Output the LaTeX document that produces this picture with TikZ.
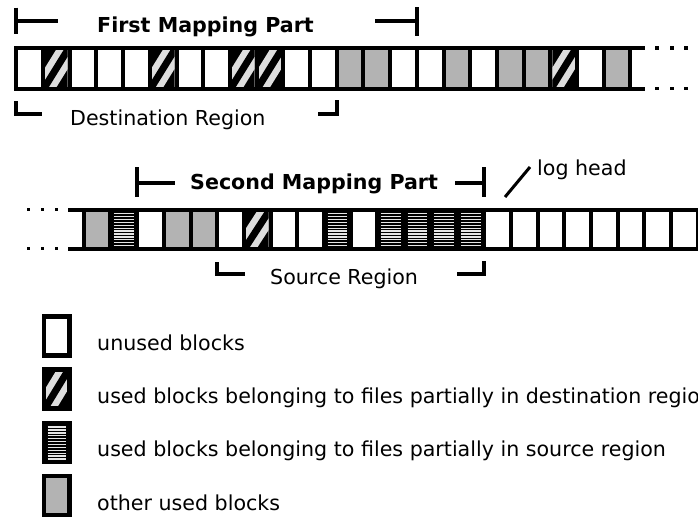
\documentclass[tikz,border=0pt]{standalone}
\usepackage{fontspec}
\setmainfont{DejaVu Sans}
\definecolor{blkgray}{HTML}{B3B3B3}
\definecolor{hatchgray}{HTML}{DEDEDE}
\definecolor{stripegray}{HTML}{E6E6E6}
\newcommand\blkw[4]{\fill[white] (#1,#2) rectangle (#3,#4);}
\newcommand\blkg[4]{\fill[blkgray] (#1,#2) rectangle (#3,#4);}
\newcommand\blkh[4]{\begin{scope}\clip (#1,#2) rectangle (#3,#4);
  \fill[black] (#1,#2) rectangle (#3,#4);
  \draw[hatchgray,line width=20] (#1,#4) -- (#3,#2);
  \draw[black,line width=7] (#1,#4) -- (#3,#2);\end{scope}}
\newcommand\blks[4]{\fill[black] (#1,#2) rectangle (#3,#4);
  \foreach \ii in {0,...,11}{\draw[stripegray,line width=1.3] ({#1+1.5},{#2+2+\ii*2.9}) -- ({#3-1.5},{#2+2+\ii*2.9});}}
\tikzset{
  lbl/.style={font=\fontsize{20.6}{24}\selectfont, inner sep=0, anchor=base west},
  ttl/.style={font=\fontsize{20.6}{24}\selectfont\bfseries, inner sep=0, anchor=base west},
  thick line/.style={line width=4, black},
  dot/.style={fill=black},
}
\begin{document}
\begin{tikzpicture}[x=1pt,y=-1pt]
\useasboundingbox (0,0) rectangle (698,517);
% ---------- top strip ----------
\foreach \t [count=\k from 0] in {w,h,w,w,w,h,w,w,h,h,w,w,g,g,w,w,g,w,g,g,h,w,g}{
  \pgfmathsetmacro\xa{16.3+\k*26.7+2}
  \pgfmathsetmacro\xb{16.3+(\k+1)*26.7-2}
  \csname blk\t\endcsname{\xa}{50}{\xb}{86.7}
}
\foreach \k in {0,...,23}{\draw[thick line] ({16.3+\k*26.7},48) -- ({16.3+\k*26.7},88.7);}
\draw[thick line] (14.3,48) -- (645,48);
\draw[thick line] (14.3,88.7) -- (645,88.7);
\foreach \xx in {657,672,686}{
  \fill[dot] (\xx-1.7,48-1.7) rectangle (\xx+1.7,48+1.7);
  \fill[dot] (\xx-1.7,88.7-1.7) rectangle (\xx+1.7,88.7+1.7);
}
% first mapping part bracket
\draw[thick line] (16.3,7.5) -- (16.3,34);
\draw[thick line] (16.3,20.5) -- (58,20.5);
\draw[thick line] (416.8,7) -- (416.8,36);
\draw[thick line] (375,20.5) -- (416.8,20.5);
\node[ttl] (fmp) at (97,32) {First Mapping Part};
% destination region bracket
\draw[thick line] (16.3,101) -- (16.3,113.5) -- (42,113.5);
\draw[thick line] (318,113.5) -- (336.7,113.5) -- (336.7,100);
\node[lbl] (dest) at (70,125) {Destination Region};
% ---------- second strip ----------
\foreach \t [count=\k from 0] in {g,s,w,g,g,w,h,w,w,s,w,s,s,s,s,w,w,w,w,w,w,w,w}{
  \pgfmathsetmacro\xa{83.7+\k*26.7+2}
  \pgfmathsetmacro\xb{83.7+(\k+1)*26.7-2}
  \csname blk\t\endcsname{\xa}{211.7}{\xb}{246.7}
}
\foreach \k in {0,...,23}{\draw[thick line] ({83.7+\k*26.7},209.7) -- ({83.7+\k*26.7},248.7);}
\draw[thick line] (68,209.7) -- (700,209.7);
\draw[thick line] (68,248.7) -- (700,248.7);
\foreach \xx in {28.3,42.7,56.7}{
  \fill[dot] (\xx-1.7,209.7-1.7) rectangle (\xx+1.7,209.7+1.7);
  \fill[dot] (\xx-1.7,248.7-1.7) rectangle (\xx+1.7,248.7+1.7);
}
% second mapping part bracket
\draw[thick line] (136.8,167) -- (136.8,197);
\draw[thick line] (136.8,182.5) -- (175,182.5);
\draw[thick line] (484.2,167) -- (484.2,197);
\draw[thick line] (455,182.5) -- (484.2,182.5);
\node[ttl] (smp) at (190,189.5) {Second Mapping Part};
% log head
\draw[line width=3] (505,197) -- (530,167);
\node[lbl] (lh) at (537,175) {log head};
% source region bracket
\draw[thick line] (217.2,262) -- (217.2,274) -- (245,274);
\draw[thick line] (457,274) -- (484.2,274) -- (484.2,261);
\node[lbl] (src) at (270,284) {Source Region};
% ---------- legend ----------
\foreach \t [count=\k from 0] in {w,h,s,g}{
  \pgfmathsetmacro\ya{314+\k*53.3}
  \pgfmathsetmacro\yb{314+\k*53.3+43.5}
  \csname blk\t\endcsname{46.2}{\ya+4.5}{67.2}{\yb-4.5}
  \draw[line width=4.5] (43.95,\ya+2.25) rectangle (69.45,\yb-2.25);
}
\node[lbl] (l1) at (97,350) {unused blocks};
\node[lbl] (l2) at (97,403.3) {used blocks belonging to files partially in destination region};
\node[lbl] (l3) at (97,456.6) {used blocks belonging to files partially in source region};
\node[lbl] (l4) at (97,510) {other used blocks};
\end{tikzpicture}
\end{document}
